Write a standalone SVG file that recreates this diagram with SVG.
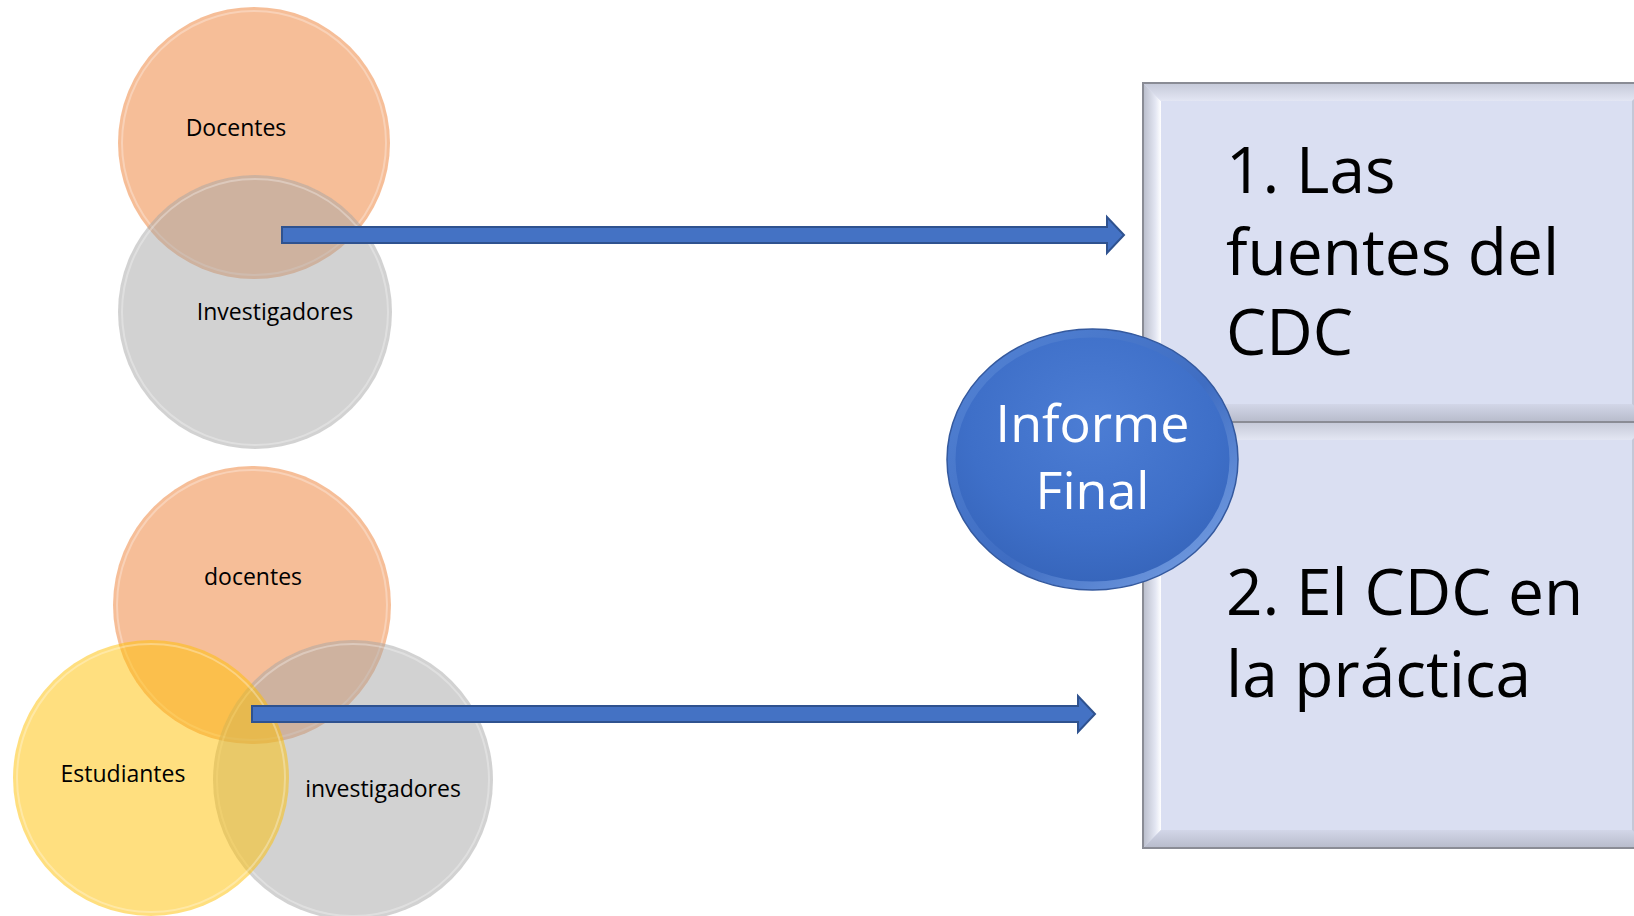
<svg xmlns="http://www.w3.org/2000/svg" width="1634" height="916" viewBox="0 0 1634 916">
  <defs>
    <style>
      .lbl { font-family: "Open Sans", "Noto Sans", "DejaVu Sans", sans-serif; fill: #000; }
      .small { font-size: 23px; text-anchor: middle; }
      .big { font-size: 64px; }
      .white { font-family: "Open Sans", "Noto Sans", "DejaVu Sans", sans-serif; fill: #fff; font-size: 52px; text-anchor: middle; }
      .orange { fill: #ED7D31; fill-opacity: 0.5; }
      .gray { fill: #A5A5A5; fill-opacity: 0.5; }
      .yellow { fill: #FFC000; fill-opacity: 0.5; }
      .rim { fill: none; stroke: #ffffff; stroke-opacity: 0.3; stroke-width: 2; }
      .arrow { fill: #4472C4; stroke: #2F528F; stroke-width: 2; }
      .boxface { fill: #DADFF2; }
      .boxline { fill: none; stroke: #8A8C95; stroke-width: 2; }
    </style>
    <radialGradient id="blueFill" cx="0.5" cy="0.35" r="0.65">
      <stop offset="0" stop-color="#4C7DD4"/>
      <stop offset="0.7" stop-color="#3E6FC8"/>
      <stop offset="1" stop-color="#3766BC"/>
    </radialGradient>
    <linearGradient id="blueRim" x1="0" y1="0" x2="1" y2="1">
      <stop offset="0" stop-color="#5585D6"/>
      <stop offset="0.55" stop-color="#3F6DC2"/>
      <stop offset="1" stop-color="#7FA7E8"/>
    </linearGradient>
    <linearGradient id="bevLeft" x1="0" y1="0" x2="1" y2="0">
      <stop offset="0" stop-color="#B9BDCB"/>
      <stop offset="0.7" stop-color="#E4E7F3"/>
      <stop offset="1" stop-color="#FFFFFF"/>
    </linearGradient>
    <linearGradient id="bevTop" x1="0" y1="0" x2="0" y2="1">
      <stop offset="0" stop-color="#C5C9D8"/>
      <stop offset="1" stop-color="#E3E6F3"/>
    </linearGradient>
    <linearGradient id="bevBottom" x1="0" y1="0" x2="0" y2="1">
      <stop offset="0" stop-color="#D2D6E8"/>
      <stop offset="1" stop-color="#B7BBCB"/>
    </linearGradient>
  </defs>

  <rect x="0" y="0" width="1634" height="916" fill="#ffffff"/>

  <!-- Top Venn -->
  <g id="top-docentes">
    <circle class="orange" cx="254" cy="143" r="136"/>
    <circle class="rim" cx="254" cy="143" r="132"/>
  </g>
  <g id="top-investigadores">
    <circle class="gray" cx="255" cy="312" r="137"/>
    <circle class="rim" cx="255" cy="312" r="133"/>
  </g>

  <!-- Bottom Venn -->
  <g id="bottom-docentes">
    <circle class="orange" cx="252" cy="605" r="139"/>
    <circle class="rim" cx="252" cy="605" r="135"/>
  </g>
  <g id="bottom-investigadores">
    <circle class="gray" cx="353" cy="780" r="140"/>
    <circle class="rim" cx="353" cy="780" r="136"/>
  </g>
  <g id="bottom-estudiantes">
    <circle class="yellow" cx="151" cy="778" r="138"/>
    <circle class="rim" cx="151" cy="778" r="134"/>
  </g>

  <!-- Right boxes -->
  <g id="box-1">
    <rect class="boxface" x="1143" y="83" width="507" height="339"/>
    <polygon points="1143,83 1161,101 1161,404 1143,422" fill="url(#bevLeft)"/>
    <polygon points="1143,83 1650,83 1632,101 1161,101" fill="url(#bevTop)"/>
    <polygon points="1143,422 1161,404 1632,404 1650,422" fill="url(#bevBottom)"/>
    <polygon points="1650,83 1650,422 1632,404 1632,101" fill="#C4C8D8"/>
    <rect class="boxline" x="1143" y="83" width="507" height="339"/>
    <text class="lbl big" x="1226" y="193">1. Las</text>
    <text class="lbl big" x="1226" y="275">fuentes del</text>
    <text class="lbl big" x="1226" y="355">CDC</text>
  </g>
  <g id="box-2">
    <rect class="boxface" x="1143" y="422" width="507" height="426"/>
    <polygon points="1143,422 1161,440 1161,830 1143,848" fill="url(#bevLeft)"/>
    <polygon points="1143,422 1650,422 1632,440 1161,440" fill="url(#bevTop)"/>
    <polygon points="1143,848 1161,830 1632,830 1650,848" fill="url(#bevBottom)"/>
    <polygon points="1650,422 1650,848 1632,830 1632,440" fill="#C4C8D8"/>
    <rect class="boxline" x="1143" y="422" width="507" height="426"/>
    <text class="lbl big" x="1226" y="615">2. El CDC en</text>
    <text class="lbl big" x="1226" y="697">la práctica</text>
  </g>

  <!-- Central ellipse -->
  <g id="informe-final">
    <ellipse cx="1092.5" cy="459.5" rx="145.5" ry="130.5" fill="url(#blueRim)" stroke="#34599E" stroke-width="1.5"/>
    <ellipse cx="1092.5" cy="459.5" rx="137" ry="122" fill="url(#blueFill)"/>
    <text class="white" x="1092.5" y="442">Informe</text>
    <text class="white" x="1092.5" y="509">Final</text>
  </g>

  <!-- Connectors -->
  <g id="connectors">
    <polygon class="arrow" points="282,227 1107,227 1107,217 1124,235 1107,253 1107,243 282,243"/>
    <polygon class="arrow" points="252,706 1078,706 1078,696 1095,714 1078,732 1078,722 252,722"/>
  </g>

  <!-- Venn labels -->
  <g id="venn-labels">
    <text class="lbl small" x="236" y="136">Docentes</text>
    <text class="lbl small" x="275" y="320">Investigadores</text>
    <text class="lbl small" x="253" y="585">docentes</text>
    <text class="lbl small" x="123" y="782">Estudiantes</text>
    <text class="lbl small" x="383" y="797">investigadores</text>
  </g>
</svg>
